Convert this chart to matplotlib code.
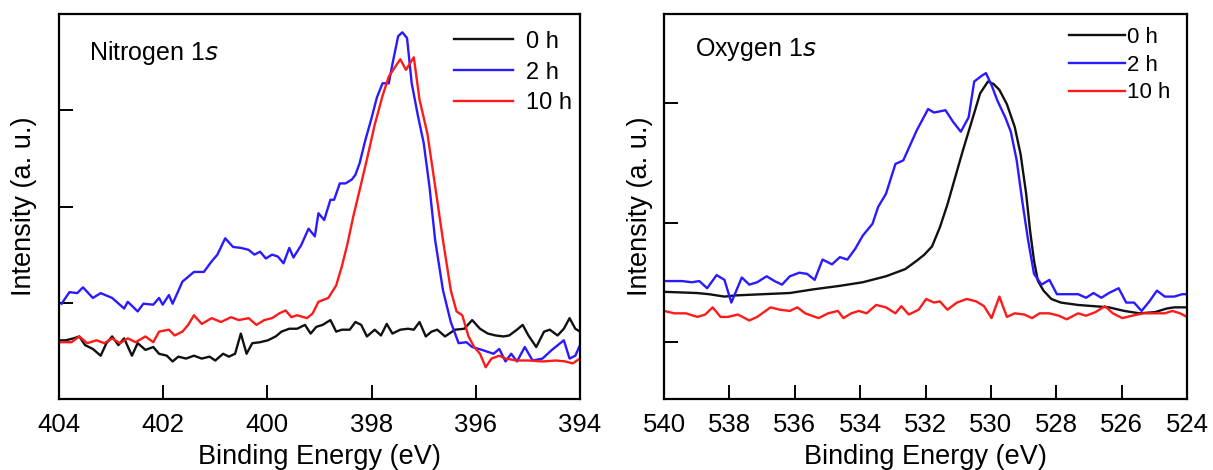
import matplotlib
matplotlib.use("Agg")
import matplotlib.pyplot as plt

plt.rcParams['font.family'] = ['Liberation Sans', 'DejaVu Sans']

# ---------------- Nitrogen 1s ----------------
n_be_2h = [403.95, 403.80, 403.65, 403.54, 403.35, 403.20, 402.98, 402.75, 402.68, 402.49,
           402.38, 402.19, 402.08, 402.01, 401.89, 401.82, 401.63, 401.41, 401.22, 401.07,
           400.96, 400.81, 400.66, 400.51, 400.36, 400.25, 400.14, 400.03, 399.91, 399.80,
           399.69, 399.58, 399.50, 399.35, 399.21, 399.09, 399.02, 398.91, 398.79, 398.72,
           398.61, 398.50, 398.38, 398.31, 398.23, 398.12, 398.01, 397.90, 397.79, 397.67,
           397.60, 397.49, 397.41, 397.32, 397.23, 397.11, 397.00, 396.89, 396.78, 396.63,
           396.48, 396.33, 396.18, 396.07, 395.88, 395.66, 395.55, 395.43, 395.32, 395.21,
           395.06, 394.91, 394.72, 394.54, 394.31, 394.20, 394.09, 394.00]
n_int_2h = [0.99, 1.11, 1.10, 1.16, 1.05, 1.10, 1.05, 0.94, 1.01, 0.91,
            0.99, 0.98, 1.05, 0.98, 1.08, 0.99, 1.22, 1.32, 1.32, 1.43,
            1.50, 1.67, 1.58, 1.57, 1.55, 1.50, 1.53, 1.46, 1.50, 1.48,
            1.41, 1.57, 1.47, 1.60, 1.77, 1.69, 1.93, 1.86, 2.07, 2.07,
            2.24, 2.24, 2.28, 2.33, 2.45, 2.69, 2.90, 3.13, 3.28, 3.28,
            3.48, 3.77, 3.81, 3.75, 3.28, 2.94, 2.66, 2.21, 1.65, 1.13,
            0.80, 0.58, 0.59, 0.54, 0.51, 0.47, 0.52, 0.39, 0.47, 0.39,
            0.54, 0.40, 0.42, 0.51, 0.61, 0.42, 0.45, 0.56]

n_be_10h = [404.00, 403.76, 403.61, 403.46, 403.28, 403.13, 402.98, 402.83, 402.68, 402.53,
            402.34, 402.19, 402.08, 401.89, 401.78, 401.63, 401.52, 401.41, 401.26, 401.07,
            400.89, 400.70, 400.55, 400.36, 400.21, 400.06, 399.91, 399.77, 399.65, 399.54,
            399.43, 399.24, 399.13, 399.02, 398.83, 398.68, 398.57, 398.46, 398.35, 398.23,
            398.09, 397.94, 397.79, 397.67, 397.56, 397.45, 397.34, 397.26, 397.19, 397.08,
            396.93, 396.78, 396.63, 396.48, 396.37, 396.26, 396.14, 396.03, 395.92, 395.81,
            395.70, 395.55, 395.43, 395.21, 394.99, 394.72, 394.46, 394.28, 394.14, 394.00]
n_int_10h = [0.59, 0.59, 0.65, 0.58, 0.61, 0.58, 0.63, 0.58, 0.63, 0.59,
             0.65, 0.59, 0.70, 0.72, 0.66, 0.70, 0.77, 0.87, 0.78, 0.84,
             0.80, 0.85, 0.82, 0.84, 0.77, 0.82, 0.84, 0.89, 0.92, 0.85,
             0.87, 0.84, 0.89, 1.01, 1.05, 1.18, 1.38, 1.62, 1.90, 2.17,
             2.49, 2.85, 3.15, 3.35, 3.44, 3.53, 3.42, 3.49, 3.55, 3.11,
             2.76, 2.21, 1.65, 1.13, 0.91, 0.87, 0.65, 0.54, 0.47, 0.33,
             0.42, 0.45, 0.42, 0.40, 0.40, 0.39, 0.40, 0.39, 0.37, 0.42]

n_be_0h = [404.00, 403.87, 403.72, 403.61, 403.50, 403.35, 403.20, 403.09, 402.98, 402.86,
           402.75, 402.60, 402.49, 402.34, 402.19, 402.08, 401.93, 401.82, 401.71, 401.56,
           401.41, 401.26, 401.11, 401.00, 400.85, 400.74, 400.62, 400.51, 400.40, 400.29,
           400.14, 399.99, 399.84, 399.73, 399.58, 399.43, 399.28, 399.17, 399.06, 398.94,
           398.79, 398.68, 398.57, 398.42, 398.31, 398.20, 398.09, 397.94, 397.82, 397.71,
           397.60, 397.45, 397.30, 397.19, 397.08, 396.96, 396.85, 396.74, 396.59, 396.40,
           396.22, 396.07, 395.92, 395.77, 395.62, 395.47, 395.36, 395.21, 395.10, 394.99,
           394.84, 394.69, 394.58, 394.43, 394.31, 394.20, 394.09, 394.00]
n_int_0h = [0.61, 0.61, 0.63, 0.65, 0.56, 0.52, 0.45, 0.58, 0.65, 0.56,
            0.63, 0.45, 0.58, 0.51, 0.54, 0.47, 0.45, 0.39, 0.44, 0.42,
            0.45, 0.42, 0.44, 0.40, 0.47, 0.44, 0.47, 0.68, 0.47, 0.58,
            0.59, 0.61, 0.65, 0.70, 0.73, 0.73, 0.77, 0.68, 0.75, 0.77,
            0.82, 0.70, 0.72, 0.72, 0.80, 0.77, 0.65, 0.72, 0.66, 0.78,
            0.68, 0.72, 0.73, 0.72, 0.80, 0.65, 0.70, 0.72, 0.65, 0.72,
            0.73, 0.82, 0.73, 0.68, 0.66, 0.65, 0.66, 0.72, 0.77, 0.66,
            0.54, 0.70, 0.72, 0.66, 0.73, 0.84, 0.73, 0.70]

# ---------------- Oxygen 1s ----------------
o_be_2h = [540.00, 539.45, 539.15, 538.92, 538.68, 538.39, 538.15, 537.94, 537.62, 537.39,
           537.15, 536.86, 536.62, 536.39, 536.15, 535.86, 535.62, 535.39, 535.15, 534.86,
           534.62, 534.39, 534.15, 533.92, 533.62, 533.45, 533.21, 532.92, 532.68, 532.45,
           532.27, 531.92, 531.74, 531.39, 531.15, 530.92, 530.68, 530.51, 530.27, 530.15,
           529.98, 529.80, 529.56, 529.39, 529.21, 529.04, 528.86, 528.68, 528.45, 528.21,
           527.98, 527.62, 527.33, 527.09, 526.86, 526.62, 526.39, 526.09, 525.86, 525.62,
           525.39, 525.15, 524.92, 524.68, 524.39, 524.15, 524.00]
o_int_2h = [1.51, 1.51, 1.50, 1.51, 1.45, 1.56, 1.52, 1.33, 1.54, 1.48,
            1.50, 1.55, 1.51, 1.48, 1.55, 1.58, 1.57, 1.52, 1.69, 1.65,
            1.71, 1.69, 1.78, 1.89, 1.99, 2.13, 2.24, 2.49, 2.52, 2.66,
            2.77, 2.95, 2.92, 2.94, 2.84, 2.76, 2.88, 3.18, 3.23, 3.25,
            3.15, 3.02, 2.88, 2.76, 2.52, 2.18, 1.85, 1.57, 1.48, 1.52,
            1.40, 1.40, 1.40, 1.37, 1.41, 1.37, 1.41, 1.45, 1.33, 1.33,
            1.26, 1.34, 1.43, 1.38, 1.38, 1.40, 1.40]

o_be_0h = [540.00, 539.00, 538.62, 538.15, 537.80, 536.98, 536.15, 535.45, 534.62, 533.92,
           533.21, 532.62, 532.27, 532.04, 531.80, 531.56, 531.33, 531.09, 530.86, 530.56,
           530.33, 530.09, 529.92, 529.74, 529.51, 529.27, 529.09, 528.92, 528.80, 528.68,
           528.56, 528.39, 528.15, 527.86, 527.33, 526.86, 526.39, 525.92, 525.45, 524.98,
           524.62, 524.39, 524.00]
o_int_0h = [1.42, 1.41, 1.40, 1.38, 1.39, 1.40, 1.41, 1.44, 1.47, 1.50,
            1.55, 1.61, 1.68, 1.73, 1.80, 1.96, 2.15, 2.38, 2.60, 2.87,
            3.08, 3.18, 3.16, 3.11, 2.99, 2.80, 2.57, 2.24, 1.93, 1.68,
            1.51, 1.43, 1.36, 1.33, 1.31, 1.30, 1.29, 1.26, 1.24, 1.25,
            1.28, 1.29, 1.29]

o_be_10h = [540.00, 539.68, 539.33, 538.98, 538.74, 538.51, 538.27, 538.04, 537.74, 537.39,
            537.15, 536.74, 536.45, 536.15, 535.92, 535.68, 535.27, 534.98, 534.68, 534.51,
            534.27, 534.04, 533.80, 533.51, 533.21, 532.92, 532.74, 532.51, 532.21, 531.98,
            531.74, 531.56, 531.33, 531.04, 530.74, 530.45, 530.21, 529.98, 529.74, 529.51,
            529.27, 528.98, 528.74, 528.51, 528.21, 527.92, 527.68, 527.33, 527.09, 526.80,
            526.51, 526.27, 525.98, 525.68, 525.33, 524.98, 524.68, 524.45, 524.21, 524.00]
o_int_10h = [1.26, 1.24, 1.24, 1.21, 1.23, 1.29, 1.21, 1.21, 1.23, 1.18,
             1.21, 1.29, 1.27, 1.26, 1.29, 1.24, 1.20, 1.24, 1.26, 1.20,
             1.24, 1.26, 1.24, 1.31, 1.29, 1.24, 1.30, 1.23, 1.27, 1.36,
             1.33, 1.34, 1.27, 1.33, 1.36, 1.34, 1.30, 1.20, 1.38, 1.21,
             1.24, 1.23, 1.20, 1.24, 1.24, 1.22, 1.19, 1.24, 1.22, 1.25,
             1.30, 1.24, 1.20, 1.22, 1.24, 1.24, 1.24, 1.26, 1.24, 1.21]

labels = ['0 h', '2 h', '10 h']
colors = ['#111111', '#2a1aff', '#ff1a1a']

n_xticks = [404, 402, 400, 398, 396, 394]
o_xticks = [540, 538, 536, 534, 532, 530, 528, 526, 524]
y_ticks = [1, 2, 3]

W, H = 1213, 470
fig = plt.figure(figsize=(W / 100, H / 100), dpi=100)
axN = fig.add_axes([59 / W, 1 - 399 / H, 521 / W, 385 / H])
axO = fig.add_axes([664 / W, 1 - 399 / H, 523 / W, 385 / H])

lw = 1.7
axN.plot(n_be_0h, n_int_0h, color=colors[0], lw=lw, label=labels[0])
axN.plot(n_be_2h, n_int_2h, color=colors[1], lw=lw, label=labels[1])
axN.plot(n_be_10h, n_int_10h, color=colors[2], lw=lw, label=labels[2])

axO.plot(o_be_0h, o_int_0h, color=colors[0], lw=lw, label=labels[0])
axO.plot(o_be_2h, o_int_2h, color=colors[1], lw=lw, label=labels[1])
axO.plot(o_be_10h, o_int_10h, color=colors[2], lw=lw, label=labels[2])

axN.set_xlim(404, 394)
axN.set_ylim(0, 4)
axO.set_xlim(540, 524)
axO.set_ylim(0.523, 3.745)
axN.set_xticks(n_xticks)
axO.set_xticks(o_xticks)

for ax in (axN, axO):
    ax.set_yticks(y_ticks)
    ax.set_yticklabels([])
    ax.tick_params(axis='both', direction='in', length=10, width=1.4,
                   labelsize=18.5, pad=10, top=False, right=False)
    for s in ax.spines.values():
        s.set_linewidth(1.6)
    ax.set_xlabel('Binding Energy (eV)', fontsize=19.5, labelpad=5)

axN.set_ylabel('Intensity (a. u.)', fontsize=19.5, labelpad=5.5)
axO.set_ylabel('Intensity (a. u.)', fontsize=19.5, labelpad=-2)

axN.text(0.0585, 0.8805, 'Nitrogen 1$\\mathit{s}$', transform=axN.transAxes,
         fontsize=18, va='baseline', ha='left')
axO.text(0.059, 0.891, 'Oxygen 1$\\mathit{s}$', transform=axO.transAxes,
         fontsize=18, va='baseline', ha='left')

axN.legend(loc='upper right', bbox_to_anchor=(0.985, 0.957), frameon=False,
           fontsize=17, handlelength=2.5, handletextpad=0.55, labelspacing=0.38,
           borderaxespad=0, borderpad=0)
axO.legend(loc='upper right', bbox_to_anchor=(0.968, 0.966), frameon=False,
           fontsize=16, handlelength=2.5, handletextpad=0.1, labelspacing=0.3,
           borderaxespad=0, borderpad=0)

fig.savefig('out.png', dpi=100)
